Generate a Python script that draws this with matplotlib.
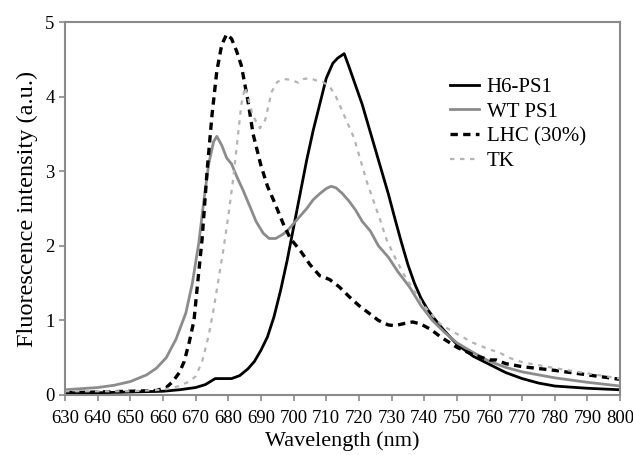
import numpy as np
import matplotlib
matplotlib.use("Agg")
import matplotlib.pyplot as plt

plt.rcParams['font.family'] = ['Liberation Serif', 'DejaVu Serif']

# H6-PS1 (black solid)
h6_wl = [630, 640, 650, 660, 665, 670, 673, 676, 679.5, 681, 683.5, 686, 688, 690,
         692, 694, 696, 698, 700, 702, 704, 706, 708, 710, 712, 713.5, 715.5, 717,
         719, 721, 723, 725, 727, 729, 731, 733, 735, 737, 739, 741, 743, 746, 750,
         755, 760, 765, 770, 775, 780, 790, 800]
h6_val = [0.03, 0.03, 0.04, 0.05, 0.07, 0.1, 0.14, 0.22, 0.22, 0.22, 0.26, 0.35, 0.45, 0.6,
          0.78, 1.05, 1.4, 1.8, 2.25, 2.7, 3.15, 3.55, 3.9, 4.25, 4.45, 4.52, 4.58, 4.4,
          4.15, 3.9, 3.6, 3.3, 3.0, 2.7, 2.37, 2.05, 1.75, 1.5, 1.3, 1.15, 1.03, 0.87, 0.68,
          0.52, 0.41, 0.3, 0.22, 0.16, 0.12, 0.09, 0.07]

# WT PS1 (grey solid)
wt_wl = [630, 640, 645, 650, 655, 658, 661, 664, 667, 669, 671, 672.5, 674, 675.5, 676.5,
         678, 679.5, 681, 682.6, 684.5, 686.7, 688.5, 690.7, 692.5, 694.5, 696.5, 698, 700,
         702, 704, 706, 708, 710, 711.5, 713, 715, 717, 719, 721, 723.5, 726, 729, 732,
         735.5, 739, 742.5, 746, 750, 755, 760, 765, 770, 780, 790, 800]
wt_val = [0.07, 0.1, 0.13, 0.18, 0.27, 0.36, 0.5, 0.75, 1.1, 1.5, 2.05, 2.6, 3.1, 3.4, 3.47,
          3.35, 3.18, 3.1, 2.93, 2.75, 2.52, 2.33, 2.17, 2.1, 2.1, 2.15, 2.2, 2.3,
          2.4, 2.5, 2.62, 2.7, 2.77, 2.8, 2.78, 2.7, 2.6, 2.48, 2.33, 2.2, 2.0, 1.85, 1.65,
          1.45, 1.2, 1.0, 0.85, 0.7, 0.57, 0.45, 0.37, 0.31, 0.23, 0.17, 0.12]

# LHC (30%) (black dashed)
lhc_wl = [630, 640, 650, 658, 661, 663, 665, 666.5, 668, 669.5, 670.5, 672, 673.5, 675, 676.5,
          678, 679.5, 681, 682.5, 684, 686, 687.6, 690, 692, 694, 696.8, 699, 702, 705, 708,
          711, 714, 717, 720, 723, 726, 729, 731, 734, 736.5, 739, 742, 745, 750, 755, 760,
          762, 765, 770, 780, 790, 800]
lhc_val = [0.03, 0.04, 0.05, 0.06, 0.1, 0.18, 0.3, 0.45, 0.7, 1.0, 1.45, 2.1, 3.0, 3.75, 4.35,
           4.7, 4.84, 4.78, 4.62, 4.42, 3.95, 3.5, 3.08, 2.8, 2.6, 2.3, 2.1, 1.94, 1.75, 1.6,
           1.55, 1.45, 1.32, 1.2, 1.1, 1.0, 0.94, 0.93, 0.96, 0.98, 0.95, 0.88, 0.78, 0.64, 0.54, 0.47,
           0.47, 0.42, 0.38, 0.33, 0.27, 0.21]

# TK (light grey dotted)
tk_wl = [630, 650, 660, 665, 668, 670, 672, 674, 675.5, 677, 678.5, 680, 681.5, 683, 684,
         685.1, 686, 687.5, 689.7, 691.3, 693.3, 695, 697, 699, 701.5, 703, 705, 707, 709,
         711.2, 713, 714.5, 716.5, 718.5, 720.5, 722.5, 724.5, 726.5, 728.5, 731, 733.6,
         736.6, 739, 741.8, 745, 748, 750, 755, 760, 763, 766, 770, 780, 790, 800]
tk_val = [0.05, 0.05, 0.07, 0.12, 0.18, 0.25, 0.45, 0.8, 1.15, 1.55, 1.95, 2.4, 2.9, 3.5, 3.9,
          4.13, 4.0, 3.75, 3.58, 3.69, 4.07, 4.2, 4.24, 4.23, 4.19, 4.24, 4.25, 4.22, 4.2,
          4.13, 4.0, 3.85, 3.65, 3.45, 3.15, 2.85, 2.6, 2.35, 2.08, 1.85, 1.63,
          1.42, 1.25, 1.1, 0.95, 0.87, 0.82, 0.7, 0.61, 0.57, 0.5, 0.44, 0.36, 0.29, 0.22]

fig = plt.figure(figsize=(6.33, 4.55), dpi=100)
ax = fig.add_axes([0.1027, 0.1319, 0.877, 0.819])

ax.plot(h6_wl, h6_val, color='black', lw=2.0, label='H6-PS1')
ax.plot(wt_wl, wt_val, color='#8c8c8c', lw=2.0, label='WT PS1')
ax.plot(lhc_wl, lhc_val, color='black', lw=2.4, dashes=(2.2, 1.6), label='LHC (30%)')
ax.plot(tk_wl, tk_val, color='#b4b4b4', lw=1.6, dashes=(2, 2.5), label='TK')

ax.set_xlim(630, 800)
ax.set_ylim(0, 5)
ax.set_xticks(np.arange(630, 801, 10))
ax.set_yticks(range(0, 6))

for s in ax.spines.values():
    s.set_color('#8a8a8a')
    s.set_linewidth(1.5)
ax.tick_params(colors='#8a8a8a', labelcolor='black', length=4, width=1.2, labelsize=13.5)
ax.tick_params(axis='x', pad=7)

ax.set_xlabel('Wavelength (nm)', fontsize=16, labelpad=3)
ax.set_ylabel('Fluorescence intensity (a.u.)', fontsize=17.5, labelpad=5)

ax.legend(loc='upper left', bbox_to_anchor=(0.711, 0.83), bbox_transform=fig.transFigure,
          frameon=False, fontsize=15, handlelength=1.4, handletextpad=0.35,
          labelspacing=0.25, borderpad=0, borderaxespad=0)

fig.savefig('out.png', dpi=100)
